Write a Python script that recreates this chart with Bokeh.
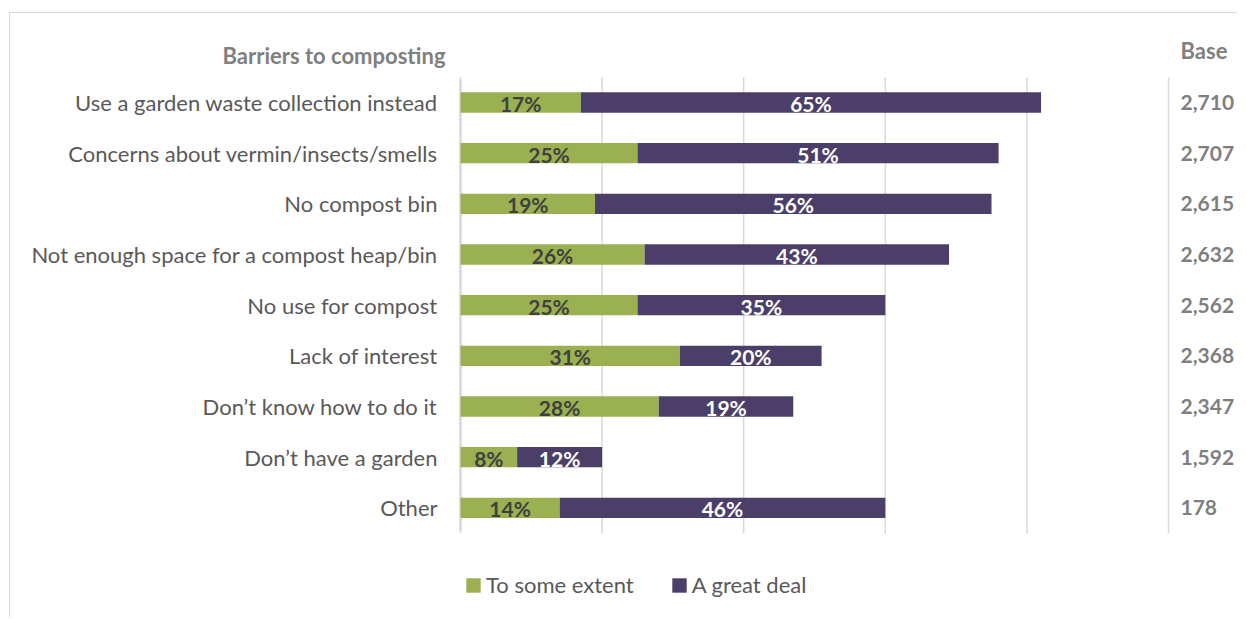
from bokeh.plotting import figure
from bokeh.models import ColumnDataSource, Range1d, Legend
from bokeh.core.properties import value
from bokeh.embed import file_html
from bokeh.resources import INLINE

categories = [
    "Use a garden waste collection instead",
    "Concerns about vermin/insects/smells",
    "No compost bin",
    "Not enough space for a compost heap/bin",
    "No use for compost",
    "Lack of interest",
    "Don\u2019t know how to do it",
    "Don\u2019t have a garden",
    "Other",
]
to_some_extent = [17, 25, 19, 26, 25, 31, 28, 8, 14]
a_great_deal = [65, 51, 56, 43, 35, 20, 19, 12, 46]
bases = [2710, 2707, 2615, 2632, 2562, 2368, 2347, 1592, 178]
series_names = ["To some extent", "A great deal"]
x_ticks = [0, 20, 40, 60, 80, 100]
chart_title = "Barriers to composting"
base_header = "Base"

GREEN = "#9BB151"
PURPLE = "#4B3F6A"
GRID = "#D9D9D9"
FONT = "Lato"

W, H = 1228, 605
n = len(categories)
rows = list(range(n))            # row 0 at the top

# scale set-up: 0% sits 450px into the canvas, 100% spans 708px; rows are 50.67px apart
px_per_pct = 7.08
px_per_row = 456 / n
row0_px = 89.0
x_range = Range1d(-450 / px_per_pct, (W - 450) / px_per_pct)
y_range = Range1d((H - row0_px) / px_per_row, -row0_px / px_per_row)

src = ColumnDataSource(dict(
    row=rows,
    cat=categories,
    some=to_some_extent,
    great=a_great_deal,
    some_mid=[s / 2 for s in to_some_extent],
    great_mid=[s + g / 2 for s, g in zip(to_some_extent, a_great_deal)],
    some_lbl=[f"{s}%" for s in to_some_extent],
    great_lbl=[f"{g}%" for g in a_great_deal],
    base_lbl=[f"{b:,}" for b in bases],
))

p = figure(width=W, height=H, x_range=x_range, y_range=y_range,
           x_axis_location=None, y_axis_location=None, title_location=None,
           output_backend="svg", toolbar_location=None,
           min_border_left=0, min_border_right=0, min_border_top=0, min_border_bottom=0)
p.styles = {"border-top": "1px solid #d9d9d9", "border-left": "1px solid #d9d9d9",
            "margin-left": "9px", "margin-top": "12px"}
p.outline_line_color = None
p.xgrid.grid_line_color = None
p.ygrid.grid_line_color = None
p.background_fill_color = "white"
p.border_fill_color = "white"

# vertical gridlines at the percentage ticks, spanning the category rows
grid_src = ColumnDataSource(dict(x=x_ticks, y0=[-0.5] * len(x_ticks), y1=[n - 0.5] * len(x_ticks)))
p.segment(x0="x", x1="x", y0="y0", y1="y1", source=grid_src, line_color=GRID, line_width=1.5)
# category axis line at 0%
p.segment(x0=[0], x1=[0], y0=[-0.45], y1=[n - 0.55], line_color=GRID, line_width=2.5)

renderers = p.hbar_stack(["some", "great"], y="row", height=0.4, color=[GREEN, PURPLE],
                         line_color=None, source=src)

# category labels
p.text(x=-23 / px_per_pct, y="row", text="cat", source=src, text_align="right",
       text_baseline="middle", text_color="#595959", text_font=value(FONT),
       text_font_size="22px")
# segment labels
p.text(x="some_mid", y="row", text="some_lbl", source=src, text_align="center",
       text_baseline="middle", text_color="#404040", text_font=value(FONT),
       text_font_style="bold", text_font_size="21px", y_offset=1)
p.text(x="great_mid", y="row", text="great_lbl", source=src, text_align="center",
       text_baseline="middle", text_color="white", text_font=value(FONT),
       text_font_style="bold", text_font_size="21px", y_offset=1)
# base column
base_x = 720 / px_per_pct
p.text(x=base_x, y="row", text="base_lbl", source=src, text_align="left",
       text_baseline="middle", text_color="#7F7F7F", text_font=value(FONT),
       text_font_style="bold", text_font_size="21px")
p.text(x=[base_x], y=[-1.03], text=[base_header], text_align="left",
       text_baseline="middle", text_color="#7F7F7F", text_font=value(FONT),
       text_font_style="bold", text_font_size="22px")
# chart title
p.text(x=[-15 / px_per_pct], y=[-0.93], text=[chart_title], text_align="right",
       text_baseline="middle", text_color="#7F7F7F", text_font=value(FONT),
       text_font_style="bold", text_font_size="22px")

legend = Legend(items=[(series_names[0], [renderers[0]]), (series_names[1], [renderers[1]])],
                orientation="horizontal", location=(454, 20))
legend.glyph_width = 18
legend.glyph_height = 18
legend.label_height = 20
legend.label_standoff = 4
legend.spacing = 36
legend.padding = 0
legend.margin = 0
legend.border_line_color = None
legend.background_fill_alpha = 0
legend.label_text_font = FONT
legend.label_text_font_size = "22px"
legend.label_text_color = "#595959"
p.add_layout(legend)

open("out.html", "w").write(file_html(p, INLINE))
